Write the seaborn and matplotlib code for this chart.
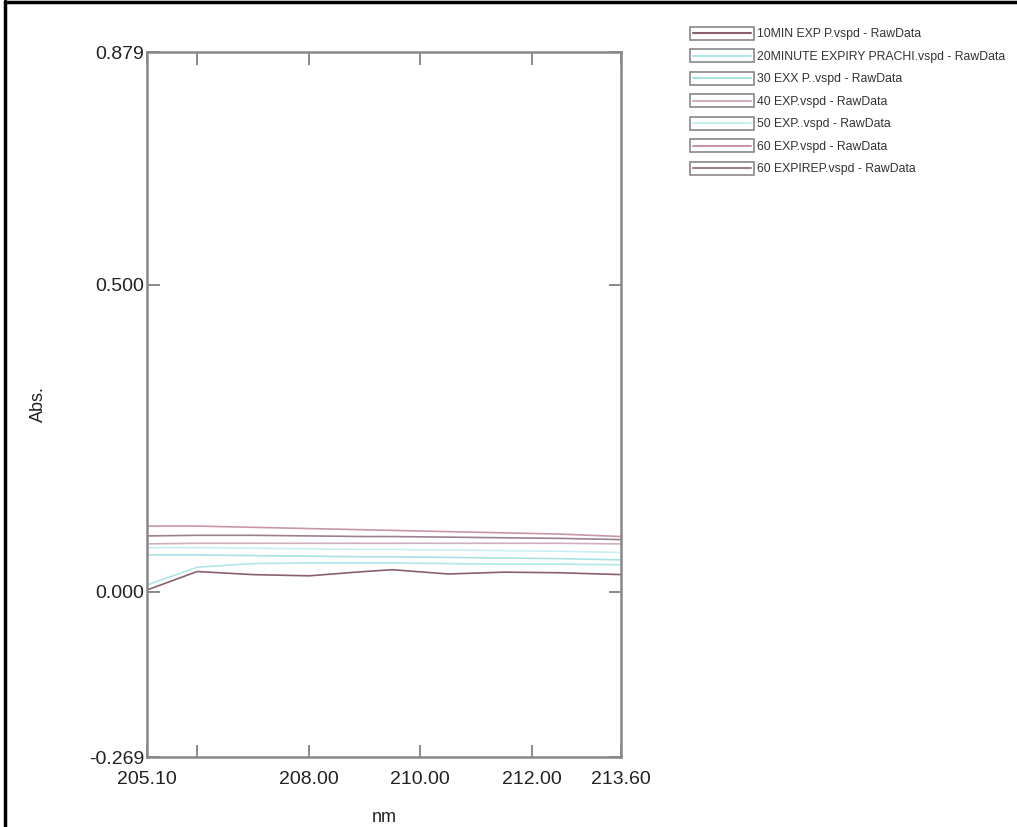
import numpy as np
import pandas as pd
import matplotlib
matplotlib.use("Agg")
import matplotlib.pyplot as plt
import seaborn as sns
from matplotlib.legend_handler import HandlerBase
from matplotlib.patches import Rectangle
from matplotlib.lines import Line2D

# ---- data ----
wavelength = [205.1, 206.0, 207.0, 208.0, 209.0, 209.5, 210.5, 211.5, 212.5, 213.6]
series_names = [
    "10MIN EXP P.vspd - RawData",
    "20MINUTE EXPIRY PRACHI.vspd - RawData",
    "30 EXX P..vspd - RawData",
    "40 EXP.vspd - RawData",
    "50 EXP..vspd - RawData",
    "60 EXP.vspd - RawData",
    "60 EXPIREP.vspd - RawData",
]
abs_10min = [0.003, 0.033, 0.028, 0.026, 0.033, 0.036, 0.029, 0.032, 0.031, 0.028]
abs_20min = [0.011, 0.040, 0.046, 0.047, 0.047, 0.047, 0.046, 0.045, 0.045, 0.044]
abs_30 = [0.060, 0.060, 0.059, 0.058, 0.057, 0.057, 0.056, 0.055, 0.054, 0.052]
abs_40 = [0.078, 0.079, 0.079, 0.079, 0.079, 0.079, 0.079, 0.079, 0.079, 0.078]
abs_50 = [0.072, 0.072, 0.071, 0.070, 0.069, 0.069, 0.068, 0.067, 0.066, 0.064]
abs_60 = [0.107, 0.107, 0.105, 0.103, 0.101, 0.100, 0.098, 0.096, 0.094, 0.090]
abs_60rep = [0.091, 0.092, 0.092, 0.091, 0.090, 0.090, 0.089, 0.088, 0.087, 0.085]
all_values = [abs_10min, abs_20min, abs_30, abs_40, abs_50, abs_60, abs_60rep]
colors = ["#8a6070", "#b0e6ea", "#a8e2e6", "#cfaec0", "#c8eef0", "#c896a6", "#9a8090"]

x_ticks = [205.1, 206.0, 208.0, 210.0, 212.0, 213.6]
x_ticklabels = ["205.10", "", "208.00", "210.00", "212.00", "213.60"]
y_ticks = [-0.269, 0.0, 0.5, 0.879]
y_ticklabels = ["-0.269", "0.000", "0.500", "0.879"]

rows = []
for name, vals in zip(series_names, all_values):
    for x, v in zip(wavelength, vals):
        rows.append({"nm": x, "Abs.": v, "series": name})
df = pd.DataFrame(rows)

sns.set_style("white")
plt.rcParams["font.family"] = ["Liberation Sans", "DejaVu Sans"]

fig = plt.figure(figsize=(10.17, 8.27), dpi=100)
ax = fig.add_axes([147 / 1017, 1 - 757 / 827, (621 - 147) / 1017, (757 - 52) / 827])

sns.lineplot(data=df, x="nm", y="Abs.", hue="series", hue_order=series_names,
             palette=colors, linewidth=1.2, legend=False, ax=ax)

ax.set_xlim(205.1, 213.6)
ax.set_ylim(-0.269, 0.879)
ax.set_xticks(x_ticks)
ax.set_xticklabels(x_ticklabels, fontsize=14, color="#222222")
ax.set_yticks(y_ticks)
ax.set_yticklabels(y_ticklabels, fontsize=14, color="#222222")
ax.tick_params(axis="x", pad=10)
ax.tick_params(axis="y", pad=2)
ax.tick_params(direction="in", length=9, width=1.2, color="#777777",
               top=True, right=True, bottom=True, left=True)
for s in ax.spines.values():
    s.set_color("#888888")
    s.set_linewidth(1.8)
ax.set_xlabel("nm", fontsize=13, color="#222222", labelpad=15)
ax.set_ylabel("Abs.", fontsize=13, color="#222222", labelpad=30)


class BoxHandler(HandlerBase):
    def create_artists(self, legend, orig_handle, xdescent, ydescent, width, height, fontsize, trans):
        r = Rectangle((-xdescent, -ydescent - 1), width, height + 2, facecolor="white",
                      edgecolor="#888888", linewidth=1.2, transform=trans)
        l = Line2D([-xdescent + 2, -xdescent + width - 2], [-ydescent + height / 2] * 2,
                   color=orig_handle.get_color(), linewidth=1.5, transform=trans)
        return [r, l]


handles = [Line2D([], [], color=c) for c in colors]
leg = fig.legend(handles, series_names, handler_map={Line2D: BoxHandler()},
                 loc="upper left", bbox_to_anchor=(690 / 1017, 1 - 28 / 827),
                 frameon=False, prop={"size": 8.8},
                 handlelength=5.2, handleheight=0.95, handletextpad=0.25,
                 labelspacing=0.82, borderaxespad=0, borderpad=0)
for t in leg.get_texts():
    t.set_color("#333333")

# outer frame lines
fig.add_artist(Line2D([5 / 1017, 5 / 1017], [0, 1 - 1 / 827], transform=fig.transFigure,
                      color="black", linewidth=2.5))
fig.add_artist(Line2D([5 / 1017, 1], [1 - 1.5 / 827, 1 - 1.5 / 827], transform=fig.transFigure,
                      color="black", linewidth=2.5))

fig.savefig("out.png", dpi=100)
